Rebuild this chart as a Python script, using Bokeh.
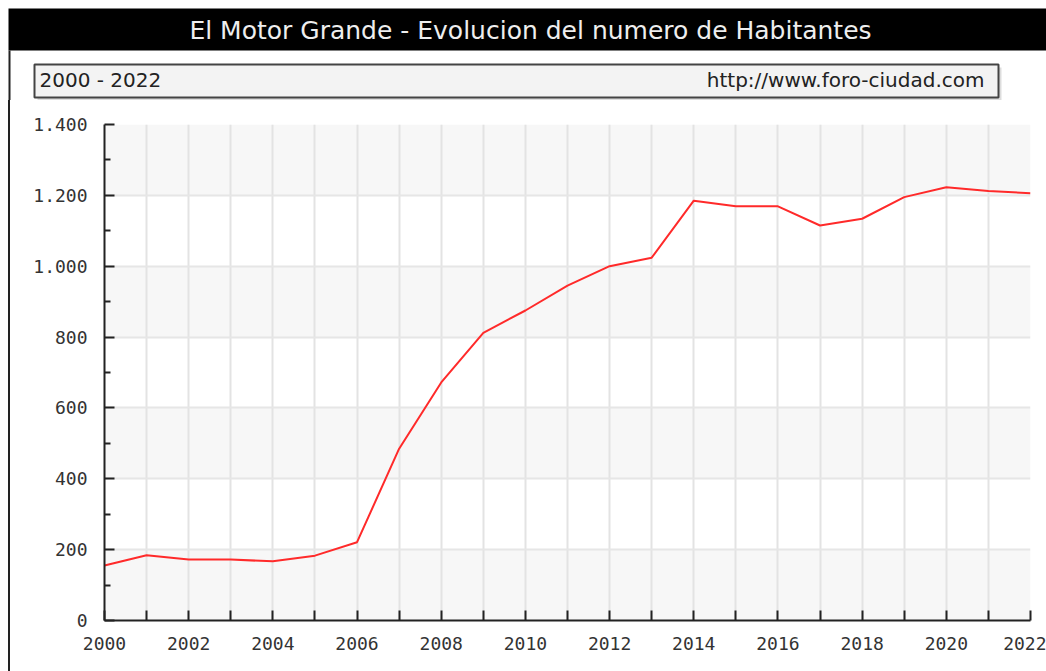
from bokeh.plotting import figure
from bokeh.layouts import column, row
from bokeh.models import FixedTicker, BoxAnnotation, Range1d, Spacer
from bokeh.core.properties import value
from bokeh.embed import file_html
from bokeh.resources import INLINE

# ---- data / texts ----
titulo = "El Motor Grande - Evolucion del numero de Habitantes"
periodo = "2000 - 2022"
fuente = "http://www.foro-ciudad.com"

years = list(range(2000, 2023))
habitantes = [155, 184, 172, 172, 167, 183, 221, 485, 672, 812, 875, 945,
              1000, 1024, 1185, 1169, 1169, 1115, 1134, 1195, 1223, 1212, 1206]

x_major = list(range(2000, 2023, 2))
x_minor = list(range(2001, 2022, 2))
x_labels = [str(v) for v in x_major]
y_major = [0, 200, 400, 600, 800, 1000, 1200, 1400]
y_minor = [100, 300, 500, 700, 900, 1100, 1300]
y_labels = ["0", "200", "400", "600", "800", "1.000", "1.200", "1.400"]

# ---- page geometry (pixels) ----
PW, PH = 1046, 671
HEAD_H = 100          # header strip height
STRIP_W = 10          # left border strip width (8 blank + 2 line)
BODY_H = PH - HEAD_H

# ---- header: title bar + subtitle box ----
head = figure(width=PW, height=HEAD_H, output_backend="svg", toolbar_location=None,
              x_range=Range1d(0, PW), y_range=Range1d(HEAD_H, 0),
              x_axis_location=None, y_axis_location=None,
              min_border=0, min_border_left=0, min_border_right=0,
              min_border_top=0, min_border_bottom=0)
head.xgrid.visible = False
head.ygrid.visible = False
head.outline_line_color = None
head.background_fill_color = "white"
head.border_fill_color = "white"

head.quad(left=[8], right=[PW], top=[8], bottom=[50], fill_color="black", line_color=None)
head.quad(left=[8], right=[10], top=[50], bottom=[HEAD_H], fill_color="#222222", line_color=None)
head.quad(left=[37], right=[1001], top=[67], bottom=[100], fill_color="#dddddd", line_color=None)
head.quad(left=[34], right=[998], top=[64], bottom=[97], fill_color="#f3f3f3",
          line_color="#444444", line_width=2)
head.text(x=[530], y=[30], text=[titulo], text_align="center", text_baseline="middle",
          text_color="#eeeeee", text_font=value("DejaVu Sans"), text_font_size="25px")
head.text(x=[39], y=[79], text=[periodo], text_align="left", text_baseline="middle",
          text_color="#222222", text_font=value("DejaVu Sans"), text_font_size="20px")
head.text(x=[984], y=[79], text=[fuente], text_align="right", text_baseline="middle",
          text_color="#222222", text_font=value("DejaVu Sans"), text_font_size="20px")

# ---- left border strip (plain layout spacers, no plot frame) ----
gap = Spacer(width=8, height=BODY_H)
border = Spacer(width=2, height=BODY_H, styles={"background-color": "#222222"})

# ---- main chart ----
MW = PW - STRIP_W
FL = 104 - STRIP_W
FR = 1030 - STRIP_W
FT = 124 - HEAD_H
FB = 620 - HEAD_H

p = figure(width=MW, height=BODY_H, output_backend="svg", toolbar_location=None,
           x_range=(years[0], years[-1]), y_range=(y_major[0], y_major[-1]),
           min_border_left=FL, min_border_right=MW - FR,
           min_border_top=FT, min_border_bottom=BODY_H - FB)
p.background_fill_color = "white"
p.border_fill_color = "white"
p.outline_line_color = None

# alternating bands
for lo, hi in zip(y_major[0::2], y_major[1::2]):
    p.add_layout(BoxAnnotation(bottom=lo, top=hi, fill_color="#f7f7f7", fill_alpha=1,
                               line_color=None, level="image"))

# grids
p.xgrid.ticker = FixedTicker(ticks=x_major, minor_ticks=x_minor)
p.xgrid.grid_line_color = "#e3e3e3"
p.xgrid.grid_line_width = 2
p.xgrid.minor_grid_line_color = "#e3e3e3"
p.xgrid.minor_grid_line_width = 2
p.ygrid.ticker = FixedTicker(ticks=y_major, minor_ticks=y_minor)
p.ygrid.grid_line_color = "#e6e6e6"
p.ygrid.grid_line_width = 2

# axes
for ax in (p.xaxis[0], p.yaxis[0]):
    ax.axis_line_color = "#222222"
    ax.axis_line_width = 2
    ax.major_tick_line_color = "#222222"
    ax.major_tick_line_width = 2
    ax.minor_tick_line_color = "#222222"
    ax.minor_tick_line_width = 2
    ax.major_tick_out = 0
    ax.minor_tick_out = 0
    ax.major_label_text_font = "DejaVu Sans Mono"
    ax.major_label_text_font_size = "18px"
    ax.major_label_text_color = "#333333"

p.xaxis.ticker = FixedTicker(ticks=x_major, minor_ticks=x_minor)
p.xaxis.major_label_overrides = dict(zip(x_major, x_labels))
p.xaxis.major_tick_in = 10
p.xaxis.minor_tick_in = 10
p.xaxis.major_label_standoff = 16

p.yaxis.ticker = FixedTicker(ticks=y_major, minor_ticks=y_minor)
p.yaxis.major_label_overrides = dict(zip(y_major, y_labels))
p.yaxis.major_tick_in = 10
p.yaxis.minor_tick_in = 6
p.yaxis.major_label_standoff = 17

# data line
p.line(years, habitantes, line_color="#ff2a2a", line_width=2)

layout = column(head, row(gap, border, p, spacing=0), spacing=0)

open("out.html", "w").write(file_html(layout, INLINE))
